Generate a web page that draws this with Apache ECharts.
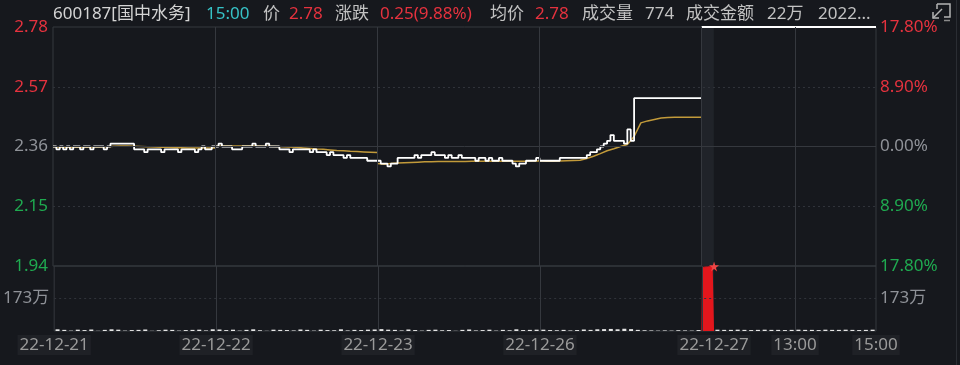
<!DOCTYPE html>
<html><head><meta charset="utf-8">
<script src="https://cdn.jsdelivr.net/npm/echarts@6/dist/echarts.min.js"></script>
<style>html,body{margin:0;padding:0;background:#16181d;}#c{width:960px;height:365px;}</style>
</head><body><div id="c"></div>
<script>
// ---- time layout (minutes) ----
const dayStarts = [0, 240, 480, 720];      // historical sessions
const auctionStart = 960, todayOpen = 978, todayClose = 1218;
const priceStep = 5, avgStep = 10, volStep = 10;

// ---- axis ticks ----
const xTickValues = [0, 240, 480, 720, 978, 1098, 1218];
const xTickLabels = ['22-12-21', '22-12-22', '22-12-23', '22-12-26', '22-12-27', '13:00', '15:00'];
const dayLines = [240, 480, 720, 960, 1098];
const priceTicks = [1.94, 2.15, 2.36, 2.57, 2.78];
const pctTicks = [-17.8, -8.9, 0, 8.9, 17.8];
const basePrice = 2.36;
const volMax = 3460000, volTick = 1730000;

// ---- header ----
const headerTexts = ['600187[国中水务]', '15:00', '价', '2.78', '涨跌', '0.25(9.88%)', '均价', '2.78', '成交量', '774', '成交金额', '22万', '2022...'];
const headerKinds = ['name', 'time', 'k', 'up', 'k', 'up', 'k', 'up', 'k', 'v', 'k', 'v', 'v'];
const headerX = [53, 206, 263, 289, 335, 380, 490, 535, 582, 645, 686, 767, 818];

// ---- price (5-minute samples) ----
const day1Price = [2.36,2.35,2.36,2.35,2.36,2.35,2.36,2.36,2.35,
  2.36,2.36,2.35,2.36,2.36,2.36,2.35,2.36,2.37,
  2.37,2.37,2.37,2.37,2.37,2.37,
  2.35,2.35,2.35,2.34,2.35,2.35,2.35,2.35,2.34,2.35,2.35,2.35,2.35,2.34,2.35,2.35,2.35,2.35,2.34,2.35,2.36,2.35,2.35,2.36,
  2.36];
const day2Price = [2.36,2.37,2.36,2.36,2.36,2.35,2.35,2.35,2.36,
  2.36,2.36,2.37,2.36,2.36,2.36,2.37,2.36,2.36,2.36,
  2.35,2.35,2.35,2.34,2.35,2.35,2.35,2.35,2.35,2.34,
  2.35,2.34,2.34,2.34,2.33,2.34,2.33,2.33,2.33,2.32,
  2.33,2.32,2.32,2.32,2.32,2.32,2.31,2.31,2.31,2.31];
const day3Price = [2.31,2.30,2.30,2.29,2.30,2.30,2.32,2.32,2.32,2.32,
  2.32,2.33,2.32,2.33,2.33,2.33,2.34,2.33,2.33,2.33,
  2.32,2.33,2.32,2.32,2.33,2.32,2.32,2.32,2.32,2.31,
  2.32,2.32,2.31,2.32,2.31,2.31,2.32,2.31,2.31,2.31,
  2.30,2.29,2.30,2.30,2.31,2.31,2.31,2.32,2.31];
const day4Price = [2.31,2.31,2.31,2.31,2.31,2.31,2.32,2.32,2.32,2.32,
  2.32,2.32,2.32,2.32,2.33,2.34,2.34,2.35,2.36,2.37,
  2.38,2.40,2.38,2.38,2.38,2.37,2.42,2.38,2.53,
  2.53,2.53,2.53,2.53,2.53,2.53,2.53,2.53,2.53,2.53,
  2.53,2.53,2.53,2.53,2.53,2.53,2.53,2.53,2.53,2.53];
const auctionPrice = 2.78;
const todayPrice = [2.78,2.78,2.78,2.78,2.78,2.78,2.78,2.78,2.78,2.78,2.78,2.78,2.78,
  2.78,2.78,2.78,2.78,2.78,2.78,2.78,2.78,2.78,2.78,2.78,2.78];

// ---- average price (10-minute samples) ----
const day1Avg = [2.360,2.357,2.357,2.357,2.357,2.357,2.358,2.358,2.359,2.361,2.362,2.362,2.361,2.360,2.359,2.358,2.357,2.357,2.356,2.356,2.355,2.355,2.355,2.355,2.355];
const day2Avg = [2.360,2.362,2.362,2.362,2.362,2.362,2.362,2.361,2.361,2.360,2.359,2.358,2.357,2.355,2.353,2.351,2.350,2.348,2.346,2.345,2.343,2.342,2.341,2.340,2.339];
const day3Avg = [2.300,2.298,2.300,2.302,2.303,2.304,2.305,2.306,2.306,2.307,2.307,2.307,2.307,2.307,2.308,2.308,2.308,2.308,2.308,2.308,2.308,2.308,2.308,2.309,2.309];
const day4Avg = [2.310,2.308,2.308,2.309,2.310,2.311,2.312,2.318,2.326,2.335,2.345,2.352,2.360,2.367,2.395,2.443,2.450,2.455,2.460,2.462,2.463,2.463,2.463,2.463,2.463];
const todayAvg = [2.78,2.78,2.78,2.78,2.78,2.78,2.78,2.78,2.78,2.78,2.78,2.78,2.78,
  2.78,2.78,2.78,2.78,2.78,2.78,2.78,2.78,2.78,2.78,2.78,2.78];

// ---- volume (10-minute bins, shares) ----
const day1Vol = [90000,60000,20000,70000,50000,80000,10000,60000,90000,70000,20000,50000,60000,80000,10000,40000,70000,60000,20000,50000,60000,70000,30000,90000];
const day2Vol = [80000,50000,70000,20000,60000,90000,40000,10000,70000,60000,50000,30000,80000,60000,20000,70000,50000,40000,90000,30000,60000,50000,70000,80000];
const day3Vol = [100000,70000,60000,30000,80000,50000,20000,60000,70000,40000,50000,10000,60000,80000,30000,50000,70000,20000,60000,40000,90000,50000,60000,70000];
const day4Vol = [70000,50000,40000,60000,30000,50000,80000,60000,90000,100000,110000,90000,120000,100000,60000,40000,30000,20000,30000,20000,40000,30000,20000,50000];
const todayVol = [70000,60000,60000,70000,60000,50000,60000,70000,60000,60000,50000,60000,70000,60000,60000,50000,70000,60000,60000,70000,60000,50000,60000,70000];
const auctionMinutes = [960, 961, 964, 968, 972, 976, 978];
const auctionVol = [0, 3380000, 3400000, 3410000, 3420000, 3430000, 3440000];

// ---- colours ----
const C = {bg:'#16181d', grid:'#35383e', dot:'#30333a', up:'#e5323e', down:'#1faa50', flat:'#8f9298',
  price:'#ffffff', avg:'#c29a3a', vol:'#e6e6e6', volUp:'#e3161c', band:'#202329', text:'#c2c2c2'};
const FONT = '"Noto Sans","Noto Sans CJK SC",sans-serif';
const STAR = 'path://M50,0 L61,35 L98,35 L68,57 L79,91 L50,70 L21,91 L32,57 L2,35 L39,35 Z';

// ---- build series data ----
const hist = [day1Price, day2Price, day3Price, day4Price];
const histAvg = [day1Avg, day2Avg, day3Avg, day4Avg];
const histVol = [day1Vol, day2Vol, day3Vol, day4Vol];
const priceData = [];
hist.forEach((arr, d) => arr.forEach((v, i) => priceData.push([dayStarts[d] + i * priceStep, v])));
priceData.push([auctionStart, '-']);
priceData.push([auctionStart, auctionPrice]);
todayPrice.forEach((v, i) => priceData.push([todayOpen + i * avgStep, v]));

const avgData = [];
histAvg.forEach((arr, d) => {
  arr.forEach((v, i) => avgData.push([dayStarts[d] + i * avgStep, v]));
  avgData.push([dayStarts[d] + 240, '-']);
});
todayAvg.forEach((v, i) => avgData.push([todayOpen + i * avgStep, v]));

const volData = [];
histVol.forEach((arr, d) => arr.forEach((v, i) => volData.push([dayStarts[d] + volStep / 2 + i * volStep, v])));
todayVol.forEach((v, i) => volData.push([todayOpen + volStep / 2 + i * volStep, v]));

const auctionData = auctionMinutes.map((m, i) => {
  const last = i === auctionMinutes.length - 1;
  return last ? {value: [m, auctionVol[i]], symbol: STAR, symbolSize: 10, itemStyle: {color: '#f04545'}} : [m, auctionVol[i]];
});

function near(a, b) { return Math.abs(a - b) < 1e-6; }
function priceColor(v) { v = parseFloat(v); return near(v, basePrice) ? C.flat : (v > basePrice ? C.up : C.down); }
function pctColor(v) { v = parseFloat(v); return near(v, 0) ? C.flat : (v > 0 ? C.up : C.down); }

const dotted = {color: C.dot, type: [2, 3], width: 1};
const solid = {color: C.grid, type: 'solid', width: 1};
const priceMarkLines = priceTicks.slice(1, -1).map(v => ({yAxis: v, lineStyle: near(v, basePrice) ? solid : dotted}))
  .concat(dayLines.map(x => ({xAxis: x, lineStyle: solid})));
const volMarkLines = [{yAxis: volTick, lineStyle: dotted}].concat(dayLines.map(x => ({xAxis: x, lineStyle: solid})));
const band = [[{xAxis: auctionStart}, {xAxis: todayOpen}]];

const labelFont = {fontSize: 17, fontFamily: FONT};

const graphics = headerTexts.map((t, i) => ({
  type: 'text', x: headerX[i], y: 14, silent: true,
  style: {text: t, fill: headerKinds[i] === 'up' ? C.up : headerKinds[i] === 'time' ? '#36c2c6' : headerKinds[i] === 'name' ? '#d4d4d4' : C.text,
    fontSize: 17, fontFamily: FONT, verticalAlign: 'middle'}
}));
graphics.push({type: 'line', silent: true, shape: {x1: 956.5, y1: 0, x2: 956.5, y2: 365}, style: {stroke: '#2a2d33', lineWidth: 1}});
graphics.push({type: 'group', x: 932, y: 4, silent: true, children: [
  {type: 'polyline', shape: {points: [[5, 0], [18, 0], [18, 13], [12, 13]]}, style: {stroke: '#b4b4b4', lineWidth: 1.5, fill: null}},
  {type: 'polyline', shape: {points: [[5, 0], [5, 5]]}, style: {stroke: '#b4b4b4', lineWidth: 1.5, fill: null}},
  {type: 'line', shape: {x1: 10, y1: 5, x2: 1, y2: 14}, style: {stroke: '#b4b4b4', lineWidth: 1.5}},
  {type: 'polyline', shape: {points: [[1, 8], [1, 14], [7, 14]]}, style: {stroke: '#b4b4b4', lineWidth: 1.5, fill: null}},
  {type: 'line', shape: {x1: 12, y1: 16.5, x2: 18, y2: 16.5}, style: {stroke: '#8a8a8a', lineWidth: 1.5}}
]});

const option = {
  backgroundColor: C.bg,
  animation: false,
  textStyle: {fontFamily: FONT},
  grid: [
    {left: 53, right: 84, top: 27, height: 239, show: true, borderColor: C.grid, borderWidth: 1},
    {left: 53, right: 84, top: 266, height: 65, show: true, borderColor: C.grid, borderWidth: 1}
  ],
  xAxis: [
    {type: 'value', gridIndex: 0, min: 0, max: todayClose, show: false, splitLine: {show: false}},
    {type: 'value', gridIndex: 1, min: 0, max: todayClose, axisLine: {show: false}, axisTick: {show: false}, splitLine: {show: false},
      axisLabel: {customValues: xTickValues, color: '#9a9a9a', fontSize: 17, fontFamily: FONT, margin: 4,
        backgroundColor: '#1f2126', padding: [2, 2, 1, 2],
        formatter: v => { const i = xTickValues.findIndex(t => near(t, v)); return i >= 0 ? xTickLabels[i] : ''; }}}
  ],
  yAxis: [
    {type: 'value', gridIndex: 0, min: priceTicks[0], max: priceTicks[priceTicks.length - 1], position: 'left',
      axisLine: {show: false}, axisTick: {show: false}, splitLine: {show: false},
      axisLabel: Object.assign({customValues: priceTicks, margin: 5, formatter: v => parseFloat(v).toFixed(2), color: priceColor}, labelFont)},
    {type: 'value', gridIndex: 0, min: pctTicks[0], max: pctTicks[pctTicks.length - 1], position: 'right',
      axisLine: {show: false}, axisTick: {show: false}, splitLine: {show: false},
      axisLabel: Object.assign({customValues: pctTicks, margin: 4, formatter: v => Math.abs(parseFloat(v)).toFixed(2) + '%', color: pctColor}, labelFont)},
    {type: 'value', gridIndex: 1, min: 0, max: volMax, position: 'left',
      axisLine: {show: false}, axisTick: {show: false}, splitLine: {show: false},
      axisLabel: Object.assign({customValues: [volTick], margin: 5, formatter: v => Math.round(v / 10000) + '万', color: C.flat}, labelFont)},
    {type: 'value', gridIndex: 1, min: 0, max: volMax, position: 'right',
      axisLine: {show: false}, axisTick: {show: false}, splitLine: {show: false},
      axisLabel: Object.assign({customValues: [volTick], margin: 4, formatter: v => Math.round(v / 10000) + '万', color: C.flat}, labelFont)}
  ],
  graphic: graphics,
  series: [
    {type: 'line', xAxisIndex: 0, yAxisIndex: 0, data: [], silent: true, z: 1,
      markArea: {silent: true, itemStyle: {color: C.band}, data: band},
      markLine: {silent: true, symbol: 'none', label: {show: false}, data: priceMarkLines}},
    {type: 'line', xAxisIndex: 1, yAxisIndex: 2, data: [], silent: true, z: 1,
      markArea: {silent: true, itemStyle: {color: C.band}, data: band},
      markLine: {silent: true, symbol: 'none', label: {show: false}, data: volMarkLines}},
    {name: '均价', type: 'line', xAxisIndex: 0, yAxisIndex: 0, data: avgData, showSymbol: false, z: 3,
      lineStyle: {color: C.avg, width: 1.5}, clip: false},
    {name: '价格', type: 'line', step: 'end', xAxisIndex: 0, yAxisIndex: 0, data: priceData, showSymbol: false, z: 4,
      lineStyle: {color: C.price, width: 1.8}, clip: false},
    {name: '成交量', type: 'bar', xAxisIndex: 1, yAxisIndex: 2, data: volData, barWidth: 4, z: 3,
      itemStyle: {color: C.vol}},
    {name: '竞价量', type: 'line', xAxisIndex: 1, yAxisIndex: 2, data: auctionData, symbol: 'none', showSymbol: true, z: 4,
      lineStyle: {color: C.volUp, width: 1}, areaStyle: {color: C.volUp, opacity: 1}, clip: false}
  ]
};
echarts.init(document.getElementById('c')).setOption(option);
</script>
</body></html>
